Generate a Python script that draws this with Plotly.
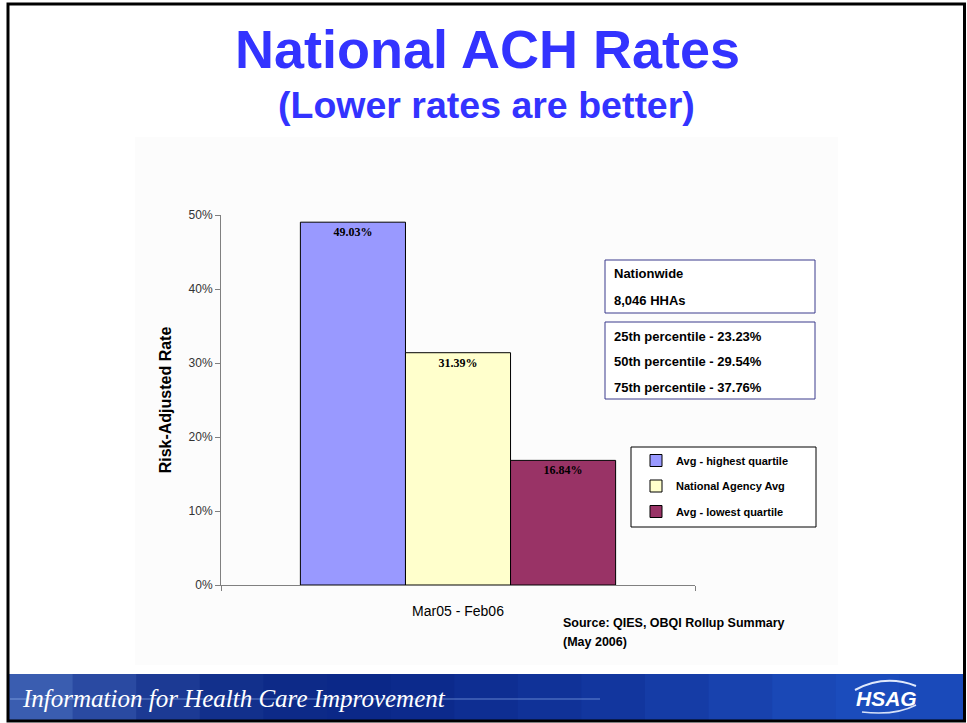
import plotly.graph_objects as go

# ---------------- data ----------------
category = ["Mar05 - Feb06"]
series_names = ["Avg - highest quartile", "National Agency Avg", "Avg - lowest quartile"]
series_values = [0.4903, 0.3139, 0.1684]
series_colors = ["#9999FF", "#FFFFCC", "#993366"]
y_ticks = [0, 0.1, 0.2, 0.3, 0.4, 0.5]
y_tick_labels = ["0%", "10%", "20%", "30%", "40%", "50%"]
nationwide_lines = ["Nationwide", "8,046 HHAs"]
percentile_lines = ["25th percentile - 23.23%", "50th percentile - 29.54%", "75th percentile - 37.76%"]
source_lines = ["Source: QIES, OBQI Rollup Summary", "(May 2006)"]

W, H = 967, 723
L, R, T, B = 221, 695, 215, 585


def X(px):
    return (px - L) / (R - L)


def Y(py):
    return (B - py) / (B - T)


SANS = "Arial, Liberation Sans, sans-serif"
SERIF = "Times New Roman, Liberation Serif, serif"

fig = go.Figure()
for i, (name, val, col) in enumerate(zip(series_names, series_values, series_colors)):
    fig.add_trace(go.Bar(
        x=category, y=[val], name=name,
        marker=dict(color=col, line=dict(color="#000000", width=1)),
        text=[f"<b>{val*100:.2f}%</b>"], textposition="inside", insidetextanchor="end",
        textfont=dict(family=SERIF, size=12, color="#000000"),
        legendgroup=f"g{i}",
        hoverinfo="skip",
    ))

shapes = []
annotations = []

# faint chart-area background
shapes.append(dict(type="rect", xref="paper", yref="paper", x0=X(135), x1=X(838), y0=Y(665), y1=Y(137),
                   fillcolor="#fcfcfc", line=dict(width=0), layer="below"))

# info boxes
for (x0, y0, x1, y1) in [(605, 260, 815, 313), (605, 322, 815, 399)]:
    shapes.append(dict(type="rect", xref="paper", yref="paper", x0=X(x0), x1=X(x1), y0=Y(y1), y1=Y(y0),
                       fillcolor="#ffffff", line=dict(color="#3b3b8c", width=1)))
# legend box
shapes.append(dict(type="rect", xref="paper", yref="paper", x0=X(631), x1=X(816), y0=Y(527), y1=Y(447),
                   fillcolor="#ffffff", line=dict(color="#000000", width=1)))

# bottom banner (gradient strips)
banner_cols = ["#3a5db0", "#2a4aa2", "#1c3a94", "#12308c", "#0d2a88", "#0b2888", "#0c2a8c",
               "#0e2e92", "#103298", "#12369e", "#153ca6", "#1842ae", "#1a48b6", "#1b4cbc", "#1a4aba"]
nb = len(banner_cols)
bx0, bx1 = 9, 963
for k, c in enumerate(banner_cols):
    xa = bx0 + (bx1 - bx0) * k / nb
    xb = bx0 + (bx1 - bx0) * (k + 1) / nb + 1
    shapes.append(dict(type="rect", xref="paper", yref="paper", x0=X(xa), x1=X(min(xb, bx1)), y0=Y(720), y1=Y(674),
                       fillcolor=c, line=dict(width=0)))
# thin light lines in banner
shapes.append(dict(type="line", xref="paper", yref="paper", x0=X(10), x1=X(600), y0=Y(699), y1=Y(699),
                   line=dict(color="rgba(170,200,255,0.55)", width=1)))
shapes.append(dict(type="path", xref="paper", yref="paper",
                   path=f"M {X(855)} {Y(690)} Q {X(885)} {Y(674)} {X(916)} {Y(686)}",
                   line=dict(color="rgba(235,242,255,0.95)", width=2)))
shapes.append(dict(type="path", xref="paper", yref="paper",
                   path=f"M {X(862)} {Y(712)} Q {X(895)} {Y(716)} {X(916)} {Y(705)}",
                   line=dict(color="rgba(235,242,255,0.9)", width=1.5)))

# slide border
shapes.append(dict(type="rect", xref="paper", yref="paper", x0=X(8), x1=X(964.5), y0=Y(721), y1=Y(4),
                   line=dict(color="#000000", width=3), fillcolor="rgba(0,0,0,0)"))

# titles
annotations.append(dict(text="<b>National ACH Rates</b>", xref="paper", yref="paper", x=X(487), y=Y(49),
                        xanchor="center", yanchor="middle", showarrow=False,
                        font=dict(family=SANS, size=54, color="#3333FF")))
annotations.append(dict(text="<b>(Lower rates are better)</b>", xref="paper", yref="paper", x=X(486), y=Y(105),
                        xanchor="center", yanchor="middle", showarrow=False,
                        font=dict(family=SANS, size=37.5, color="#3333FF")))

# box texts
for txt, yy in zip(nationwide_lines, [273, 300]):
    annotations.append(dict(text=f"<b>{txt}</b>", xref="paper", yref="paper", x=X(612), y=Y(yy),
                            xanchor="left", yanchor="middle", showarrow=False,
                            font=dict(family=SANS, size=13, color="#000000")))
for txt, yy in zip(percentile_lines, [336, 361, 387]):
    annotations.append(dict(text=f"<b>{txt}</b>", xref="paper", yref="paper", x=X(612), y=Y(yy),
                            xanchor="left", yanchor="middle", showarrow=False,
                            font=dict(family=SANS, size=13, color="#000000")))
for txt, yy in zip(source_lines, [623, 642]):
    annotations.append(dict(text=f"<b>{txt}</b>", xref="paper", yref="paper", x=X(561), y=Y(yy),
                            xanchor="left", yanchor="middle", showarrow=False,
                            font=dict(family=SANS, size=12.5, color="#000000")))

# banner text
annotations.append(dict(text="<i>Information for Health Care Improvement</i>", xref="paper", yref="paper",
                        x=X(20), y=Y(698), xanchor="left", yanchor="middle", showarrow=False,
                        font=dict(family=SERIF, size=25, color="#ffffff")))
annotations.append(dict(text="<b><i>HSAG</i></b>", xref="paper", yref="paper",
                        x=X(886), y=Y(698), xanchor="center", yanchor="middle", showarrow=False,
                        font=dict(family=SANS, size=21, color="#ffffff")))

fig.update_layout(
    width=W, height=H, autosize=False,
    margin=dict(l=L, r=W - R, t=T, b=H - B, pad=0),
    paper_bgcolor="#ffffff", plot_bgcolor="rgba(0,0,0,0)",
    barmode="group", bargap=0.335, bargroupgap=0,
    showlegend=True,
    legend=dict(x=X(636), y=Y(446), xanchor="left", yanchor="top",
                bgcolor="rgba(0,0,0,0)", borderwidth=0, tracegroupgap=6.5,
                font=dict(family=SANS, size=11, color="#000000", weight="bold"),
                traceorder="grouped", itemclick=False),
    shapes=shapes, annotations=annotations,
    xaxis=dict(showline=True, linecolor="#808080", linewidth=1, ticks="outside", tickson="boundaries",
               ticklen=5, tickcolor="#808080", showgrid=False, zeroline=False,
               tickfont=dict(family=SANS, size=14, color="#000000"), ticklabelstandoff=13),
    yaxis=dict(range=[0, 0.5], tickvals=y_ticks, ticktext=y_tick_labels, showline=True, linecolor="#808080",
               linewidth=1, ticks="outside", ticklen=5, tickcolor="#808080", showgrid=False, zeroline=False,
               tickfont=dict(family=SANS, size=12, color="#333333"),
               title=dict(text="<b>Risk-Adjusted Rate</b>", font=dict(family=SANS, size=16, color="#000000"),
                          standoff=12)),
)

fig.write_html("out.html", config={"displayModeBar": False},
               post_script="document.body.style.margin='0';")
